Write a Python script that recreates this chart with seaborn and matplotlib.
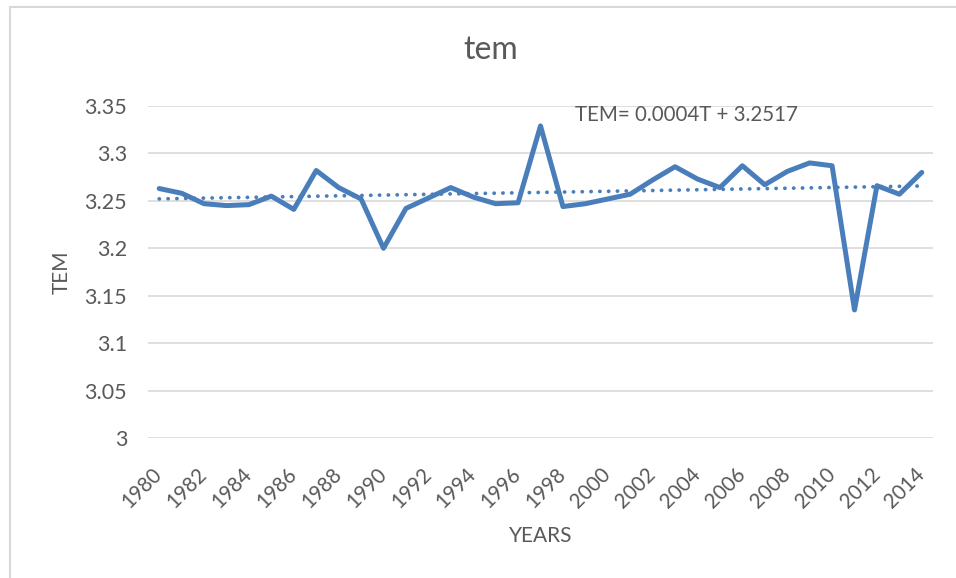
import matplotlib
matplotlib.use("Agg")
import matplotlib.pyplot as plt
import matplotlib.lines as mlines
import numpy as np
import pandas as pd
import seaborn as sns

# Annual TEM values, 1980-2014
years = list(range(1980, 2015))
tem = [3.263, 3.258, 3.247, 3.245, 3.246, 3.255, 3.241, 3.282, 3.264, 3.252,
       3.200, 3.242, 3.253, 3.264, 3.254, 3.247, 3.248, 3.329, 3.244, 3.247,
       3.252, 3.257, 3.272, 3.286, 3.273, 3.264, 3.287, 3.267, 3.281, 3.290,
       3.287, 3.135, 3.266, 3.257, 3.280]

# Linear trend as given by its equation: TEM = slope * T + intercept, T = 1..n
slope = 0.0004
intercept = 3.2517
trend_label = "TEM= 0.0004T + 3.2517"

y_ticks = [3.0, 3.05, 3.1, 3.15, 3.2, 3.25, 3.3, 3.35]
y_tick_labels = ["3", "3.05", "3.1", "3.15", "3.2", "3.25", "3.3", "3.35"]
x_ticks = list(range(1980, 2015, 2))

df = pd.DataFrame({"year": years, "tem": tem})
df["T"] = np.arange(1, len(years) + 1)
df["trend"] = slope * df["T"] + intercept

sns.set_theme(style="white")
plt.rcParams["font.family"] = ["Lato", "DejaVu Sans"]

TEXT = "#595959"
BLUE = "#4A7EBB"
GRID = "#D9D9D9"

fig = plt.figure(figsize=(9.56, 5.78), dpi=100)
fig.patch.set_facecolor("white")
ax = fig.add_axes([148 / 956, 1 - 438 / 578, (933 - 148) / 956, (438 - 106) / 578])

# chart border (left and top edges visible)
fig.add_artist(mlines.Line2D([10 / 956, 10 / 956], [0, 1 - 7 / 578], color=GRID,
                             lw=1.5, transform=fig.transFigure))
fig.add_artist(mlines.Line2D([10 / 956, 1], [1 - 7 / 578, 1 - 7 / 578], color=GRID,
                             lw=1.5, transform=fig.transFigure))

for yv in y_ticks:
    ax.axhline(yv, color=GRID, lw=1.2, zorder=0)

sns.lineplot(data=df, x="year", y="tem", ax=ax, color=BLUE, linewidth=3.6,
             solid_joinstyle="round", solid_capstyle="round", zorder=3)
sns.lineplot(data=df, x="year", y="trend", ax=ax, color=BLUE, linewidth=2.7,
             zorder=2, dashes=False)
trend_line = ax.get_lines()[-1]
trend_line.set_dashes((0.05, 2.3))
trend_line.set_dash_capstyle("round")

ax.set_xlim(1979.5, 2014.5)
ax.set_ylim(3.0, 3.35)
ax.set_yticks(y_ticks)
ax.set_yticklabels(y_tick_labels)
ax.set_xticks(x_ticks)
ax.set_xticklabels([str(x) for x in x_ticks], rotation=45, ha="right",
                   va="center", rotation_mode="anchor")
ax.tick_params(axis="y", length=0, colors=TEXT, labelsize=15.5, pad=15)
ax.tick_params(axis="x", length=0, colors=TEXT, labelsize=14.8, pad=24)
for s in ax.spines.values():
    s.set_visible(False)

ax.set_xlabel("YEARS", color=TEXT, fontsize=15)
ax.set_ylabel("TEM", color=TEXT, fontsize=15)
ax.yaxis.set_label_coords(-(148 - 72) / 785, 0.5)
ax.xaxis.set_label_coords(0.5, -(526 - 438) / 332)

fig.text(491 / 956, 1 - 50 / 578, "tem", ha="center", va="center",
         fontsize=23, color=TEXT)
fig.text(575 / 956, 1 - 115 / 578, trend_label, ha="left", va="center",
         fontsize=14.8, color=TEXT)

fig.savefig("out.png", dpi=100, facecolor="white")
